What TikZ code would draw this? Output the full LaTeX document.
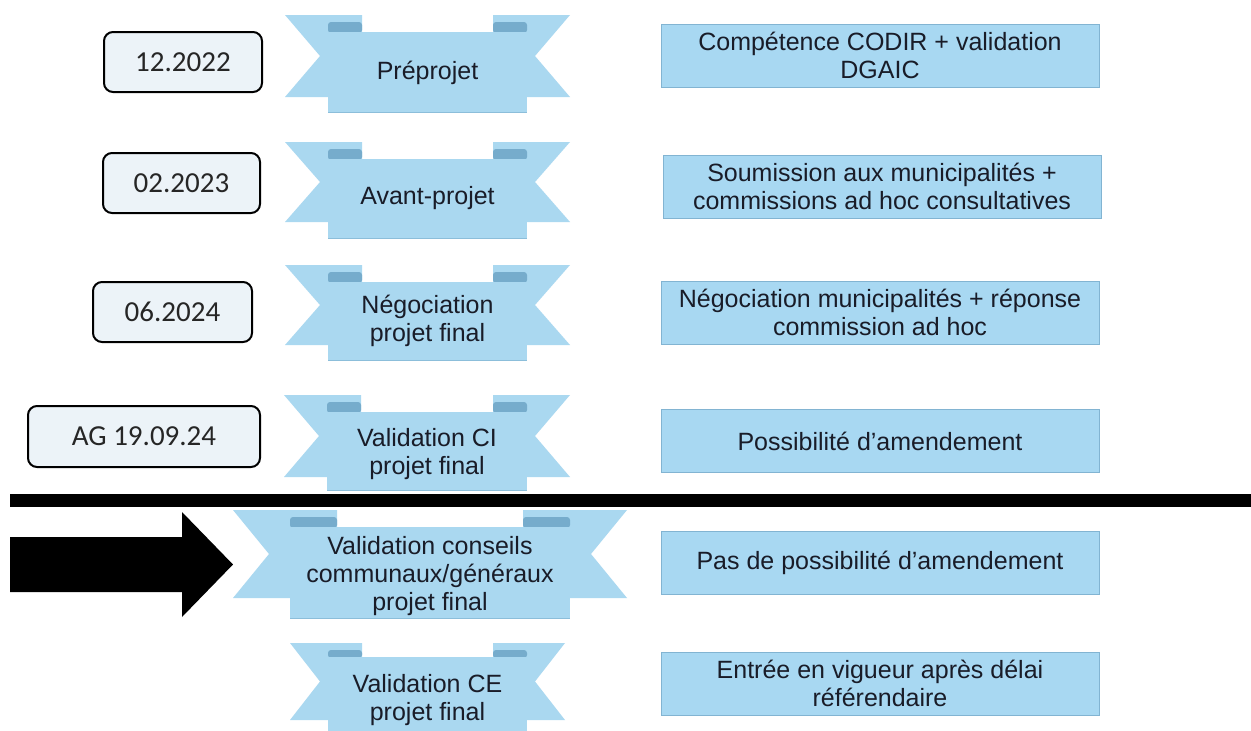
\documentclass[tikz,border=0pt]{standalone}
\usepackage{fontspec}
\setmainfont{Liberation Sans}
\newfontfamily\datefont{Carlito}
\definecolor{ribfill}{RGB}{170,216,240}
\definecolor{ribfold}{RGB}{118,172,204}
\definecolor{ribedge}{RGB}{140,190,218}
\definecolor{boxfill}{RGB}{168,216,242}
\definecolor{boxedge}{RGB}{130,180,210}
\definecolor{datefill}{RGB}{236,243,248}
\definecolor{txt}{RGB}{25,28,40}
% #1 L, #2 R, #3 band top, #4 band bottom, #5 tail top, #6 tail bottom, #7 outer offset, #8 notch depth, #9 fold width
\newcommand{\ribbonshape}[9]{%
  \fill[ribfill] ({#1-#7},#5) -- ({#1+#9},#5) -- ({#1+#9},#6) -- ({#1-#7},#6) -- ({#1-#7+#8},{(#5+#6)/2}) -- cycle;
  \fill[ribfill] ({#2+#7},#5) -- ({#2-#9},#5) -- ({#2-#9},#6) -- ({#2+#7},#6) -- ({#2+#7-#8},{(#5+#6)/2}) -- cycle;
  \fill[ribfold, rounded corners=3pt] (#1,{#5+7}) rectangle ({#1+#9},{#3+1});
  \fill[ribfold, rounded corners=3pt] ({#2-#9},{#5+7}) rectangle (#2,{#3+1});
  \fill[ribfill] (#1,#3) rectangle (#2,#4);
  \draw[ribedge, line width=0.8pt] (#1,#4) -- (#2,#4);
}
\begin{document}
\begin{tikzpicture}[x=1pt,y=-1pt,
  datebox/.style={draw=black, line width=2pt, rounded corners=9pt, fill=datefill,
    font=\datefont\fontsize{29}{33}\selectfont, inner sep=0pt, text=black!85},
  infobox/.style={draw=boxedge, line width=0.8pt, fill=boxfill, minimum width=438pt,
    minimum height=63pt, align=center, font=\fontsize{25}{28}\selectfont, text=txt, inner sep=0pt},
  ribtext/.style={align=center, font=\fontsize{25}{28}\selectfont, text=txt, inner sep=0pt}]
\useasboundingbox (0,0) rectangle (1251,731);
\clip (0,0) rectangle (1251,731);
\fill[white] (0,0) rectangle (1251,731);

% ribbons
\ribbonshape{328}{527}{32}{112}{15}{97}{43}{35}{34}
\ribbonshape{328}{527}{159}{238}{142}{222}{43}{35}{34}
\ribbonshape{328}{527}{282}{360}{265}{345}{43}{35}{34}
\ribbonshape{327}{527}{412}{490}{395}{477}{43}{35}{34}
\ribbonshape{290}{570}{527}{618}{510}{598}{57}{36}{47}
\ribbonshape{328}{527}{657}{745}{643}{720}{38}{30}{34}

\node[ribtext] (r1) at (427.5,73) {Préprojet};
\node[ribtext] (r2) at (427.5,198.5) {Avant-projet};
\node[ribtext] (r3) at (427.5,321) {Négociation\\projet final};
\node[ribtext] (r4) at (427,454) {Validation CI\\projet final};
\node[ribtext] (r5) at (430,576) {Validation conseils\\communaux/généraux\\projet final};
\node[ribtext] (r6) at (427.5,700) {Validation CE\\projet final};

% date boxes
\node[datebox, minimum width=158pt, minimum height=60pt] (d1) at (183,62) {12.2022};
\node[datebox, minimum width=157pt, minimum height=60pt] (d2) at (181.5,183) {02.2023};
\node[datebox, minimum width=159pt, minimum height=60pt] (d3) at (172.5,312) {06.2024};
\node[datebox, minimum width=232pt, minimum height=61pt] (d4) at (144,436.5) {AG 19.09.24};

% info boxes
\node[infobox] (i1) at (880,55.5) {Compétence CODIR + validation\\DGAIC};
\node[infobox] (i2) at (882,186.5) {Soumission aux municipalités +\\commissions ad hoc consultatives};
\node[infobox] (i3) at (880,312.5) {Négociation municipalités + réponse\\commission ad hoc};
\node[infobox] (i4) at (880,441) {Possibilité d'amendement};
\node[infobox] (i5) at (880,562.5) {Pas de possibilité d'amendement};
\node[infobox] (i6) at (880,683.5) {Entrée en vigueur après délai\\référendaire};

% separator line and arrow
\fill[black] (10,494) rectangle (1251,507);
\fill[black] (10,537) -- (182,537) -- (182,512) -- (233,564.5) -- (182,617) -- (182,592) -- (10,592) -- cycle;
\end{tikzpicture}
\end{document}
